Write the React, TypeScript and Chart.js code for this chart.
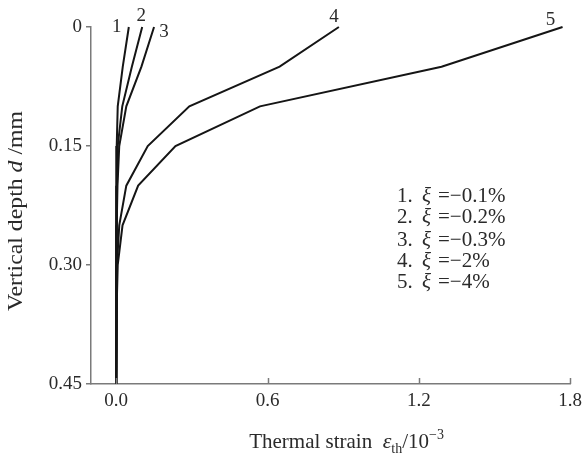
import React, { useEffect, useRef } from "react";
import { Chart, registerables } from "chart.js";

Chart.register(...registerables);

// Vertical depth d (mm) at which each strain value is read
const depths = [0, 0.05, 0.1, 0.15, 0.2, 0.25, 0.3, 0.35, 0.4, 0.45];
// Thermal strain (10^-3) for each curve
const strain1 = [0.05, 0.026, 0.006, 0.002, 0.001, 0, 0, 0, 0, 0];
const strain2 = [0.103, 0.062, 0.024, 0.006, 0.003, 0.001, 0, 0, 0, 0];
const strain3 = [0.15, 0.1, 0.04, 0.012, 0.005, 0.002, 0.001, 0, 0, 0];
const strain4 = [0.883, 0.648, 0.29, 0.125, 0.04, 0.012, 0.003, 0.001, 0, 0];
const strain5 = [1.77, 1.29, 0.57, 0.235, 0.087, 0.025, 0.006, 0.002, 0, 0];

const curveNames = ["1", "2", "3", "4", "5"];
const xiValues = ["\u22120.1%", "\u22120.2%", "\u22120.3%", "\u22122%", "\u22124%"];
const xTickValues = [0, 0.6, 1.2, 1.8];
const yTickValues = [0, 0.15, 0.3, 0.45];

const SERIF = "'Liberation Serif', 'Times New Roman', serif";
const AXIS_GRAY = "#7a7a7a";
const TEXT = "#2a2a2a";
const LINE = "#151515";

type Run = { text: string; font: string; dy?: number };

function measureRuns(ctx: CanvasRenderingContext2D, runs: Run[]) {
  let total = 0;
  for (const r of runs) {
    ctx.font = r.font;
    total += ctx.measureText(r.text).width;
  }
  return total;
}

function drawRuns(ctx: CanvasRenderingContext2D, x: number, y: number, runs: Run[], align: "left" | "center") {
  const total = measureRuns(ctx, runs);
  let cx = align === "center" ? x - total / 2 : x;
  ctx.textAlign = "left";
  ctx.textBaseline = "alphabetic";
  for (const r of runs) {
    ctx.font = r.font;
    ctx.fillText(r.text, cx, y + (r.dy || 0));
    cx += ctx.measureText(r.text).width;
  }
}

const decorPlugin = {
  id: "decor",
  afterDraw(chart: any) {
    const ctx: CanvasRenderingContext2D = chart.ctx;
    const xs = chart.scales.x;
    const ys = chart.scales.y;
    const area = chart.chartArea;
    ctx.save();

    // inward tick marks on the x axis
    ctx.strokeStyle = AXIS_GRAY;
    ctx.lineWidth = 1.5;
    for (const v of xTickValues) {
      const px = Math.round(xs.getPixelForValue(v)) + 0.5;
      ctx.beginPath();
      ctx.moveTo(px, area.bottom);
      ctx.lineTo(px, area.bottom - 6);
      ctx.stroke();
    }

    ctx.fillStyle = TEXT;

    // curve number labels near the top of each curve
    const tops = [strain1[0], strain2[0], strain3[0], strain4[0], strain5[0]];
    const offsets = [
      [-12, 5],
      [-1, -6],
      [10, 10],
      [-5, -5],
      [-12, -2],
    ];
    ctx.font = `19px ${SERIF}`;
    ctx.textAlign = "center";
    ctx.textBaseline = "alphabetic";
    curveNames.forEach((n, i) => {
      const px = xs.getPixelForValue(tops[i]) + offsets[i][0];
      const py = ys.getPixelForValue(depths[0]) + offsets[i][1];
      ctx.fillText(n, px, py);
    });

    // legend text
    const lx = 397;
    const baselines = [202, 223, 246, 267, 288];
    curveNames.forEach((n, i) => {
      const by = baselines[i];
      ctx.font = `21px ${SERIF}`;
      ctx.textAlign = "left";
      ctx.fillText(n + ".", lx, by);
      ctx.font = `italic 21px ${SERIF}`;
      ctx.fillText("\u03be", lx + 25, by);
      ctx.font = `21px ${SERIF}`;
      ctx.fillText("=" + xiValues[i], lx + 41, by);
    });

    // x axis title
    ctx.fillStyle = TEXT;
    drawRuns(
      ctx,
      (area.left + area.right) / 2 + 16,
      448,
      [
        { text: "Thermal strain  ", font: `21px ${SERIF}` },
        { text: "\u03b5", font: `italic 22px ${SERIF}` },
        { text: "th", font: `14px ${SERIF}`, dy: 5 },
        { text: "/10", font: `21px ${SERIF}` },
        { text: "\u22123", font: `14px ${SERIF}`, dy: -9 },
      ],
      "center"
    );

    // y axis title (rotated), stretched along its length to the reference extent
    const yRuns: Run[] = [
      { text: "Vertical depth ", font: `21px ${SERIF}` },
      { text: "d", font: `italic 21px ${SERIF}` },
      { text: " /mm", font: `21px ${SERIF}` },
    ];
    const natural = measureRuns(ctx, yRuns);
    const stretch = 200 / natural;
    ctx.translate(22, 211);
    ctx.rotate(-Math.PI / 2);
    ctx.scale(stretch, 1);
    drawRuns(ctx, 0, 0, yRuns, "center");
    ctx.restore();
  },
};

export default function App() {
  const canvasRef = useRef<HTMLCanvasElement | null>(null);

  useEffect(() => {
    if (!canvasRef.current) return;
    const series = [strain1, strain2, strain3, strain4, strain5];
    const datasets = series.map((s, i) => ({
      label: curveNames[i],
      data: s.map((v, j) => ({ x: v, y: depths[j] })),
      showLine: true,
      borderColor: LINE,
      backgroundColor: LINE,
      borderWidth: 2,
      pointRadius: 0,
      tension: 0,
      clip: false as any,
    }));

    const chart = new Chart(canvasRef.current, {
      type: "scatter",
      data: { datasets },
      options: {
        responsive: false,
        animation: false,
        devicePixelRatio: 1,
        layout: { padding: { left: 0, top: 27, right: 13, bottom: 0 } },
        plugins: {
          legend: { display: false },
          tooltip: { enabled: false },
          title: { display: false },
        },
        scales: {
          x: {
            type: "linear",
            min: -0.1,
            max: 1.8,
            afterBuildTicks: (scale: any) => {
              scale.ticks = xTickValues.map((v) => ({ value: v }));
            },
            afterFit: (scale: any) => {
              scale.height = 75;
            },
            border: { display: true, color: AXIS_GRAY, width: 1.5 },
            grid: { display: true, drawOnChartArea: false, drawTicks: false, color: AXIS_GRAY },
            ticks: {
              color: TEXT,
              font: { family: SERIF, size: 19 },
              padding: 6,
              autoSkip: false,
              maxRotation: 0,
              callback: (v: any) => Number(v).toFixed(1),
            },
          },
          y: {
            type: "linear",
            reverse: true,
            min: 0,
            max: 0.45,
            afterBuildTicks: (scale: any) => {
              scale.ticks = yTickValues.map((v) => ({ value: v }));
            },
            afterFit: (scale: any) => {
              scale.width = 91;
            },
            border: { display: true, color: AXIS_GRAY, width: 1.5 },
            grid: { display: true, drawOnChartArea: false, drawTicks: true, tickLength: 5, color: AXIS_GRAY, lineWidth: 1.5 },
            ticks: {
              color: TEXT,
              font: { family: SERIF, size: 19 },
              padding: 4,
              autoSkip: false,
              callback: (v: any) => (Number(v) === 0 ? "0" : Number(v).toFixed(2)),
            },
          },
        },
      },
      plugins: [decorPlugin],
    });
    return () => chart.destroy();
  }, []);

  return (
    <div style={{ position: "fixed", left: 0, top: 0, width: 588, height: 459, background: "#fff" }}>
      <canvas ref={canvasRef} width={588} height={459} style={{ display: "block", width: 588, height: 459 }} />
    </div>
  );
}
